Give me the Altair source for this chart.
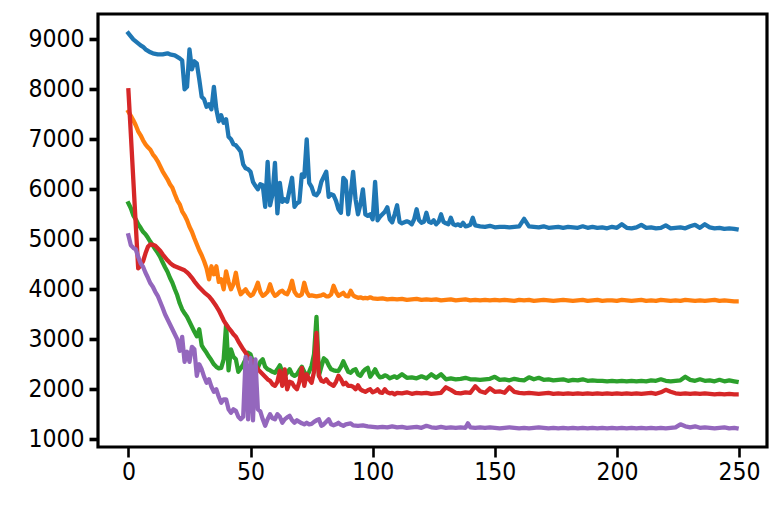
import altair as alt
import pandas as pd

# ---- data (x = step index, y = value) ----
blue_head = [
    9120, 9060, 9000, 8960, 8920, 8880, 8850, 8800, 8770, 8740,
    8720, 8710, 8700, 8700, 8700, 8710, 8720, 8700, 8690, 8680,
    8650, 8620, 8580, 8000, 8050, 8800, 8400, 8560, 8520, 8200,
    7850, 7800, 7650, 7700, 7600, 8050, 7600, 7360, 7480, 7330,
    7400, 7050, 7000, 6900, 6880, 6820, 6750, 6500, 6420, 6400,
    6350, 6150, 6070, 6000, 6100, 6080, 5650, 6550, 5680, 5900,
    6530, 5520, 6130, 5750, 5800, 5750, 6000, 6230, 5650, 5720,
    5750, 6300, 6250, 7000, 6130, 6050, 5900, 5880, 5950, 6150,
    6250, 6350, 5850, 5900, 5880, 5770, 5600, 5530, 6230, 6170,
    5500, 5900, 6350, 5800, 5500, 5700, 6000, 5500, 5470, 5500,
    5400, 6150, 5380, 5450, 5500, 5550, 5640, 5400, 5340, 5500,
    5680, 5350, 5320, 5340, 5360, 5340, 5300, 5400, 5600, 5380,
    5330, 5350, 5530, 5350, 5330, 5380, 5300, 5350, 5500, 5350,
    5320, 5300, 5430, 5300, 5280, 5300, 5270, 5330, 5260, 5270,
    5290, 5430, 5280,
]
blue_tail_start = 144
blue_tail = [
    5260, 5250, 5270, 5240, 5250, 5250, 5240, 5250, 5260, 5410,
    5260, 5250, 5240, 5260, 5230, 5240, 5250, 5230, 5250, 5240,
    5230, 5260, 5230, 5250, 5230, 5240, 5220, 5250, 5230, 5300,
    5230, 5220, 5240, 5290, 5230, 5240, 5220, 5230, 5280, 5220,
    5230, 5240, 5220, 5260, 5290, 5230, 5300, 5240, 5220, 5230,
    5210, 5220, 5210,
]
blue_last = 5200

orange_head = [
    7550, 7470, 7380, 7280, 7160, 7080, 6980, 6900, 6840, 6790,
    6700, 6640, 6560, 6460, 6360, 6280, 6200, 6100, 6030, 5900,
    5780, 5700, 5560, 5480, 5380, 5250, 5150, 5020, 4900, 4780,
    4680, 4560, 4420, 4200, 4460, 4300, 4460, 4150, 4200, 4000,
    4360, 4150, 4000, 4100, 4330, 4050, 3900, 3950, 4000, 3920,
    3870, 3900, 4000, 4130, 3950, 3870, 3900, 3950, 4100, 3950,
    3870, 3900, 3950, 3970, 3920, 3900, 4000, 4170, 3950, 3880,
    3870, 3900, 4130, 3950, 3870, 3880, 3870, 3860, 3870, 3880,
    3900, 3860, 3860, 3900, 4070, 3950, 3870, 3900, 3930, 3870,
    3860, 3970, 3880, 3850, 3830, 3840, 3820, 3830, 3820, 3840,
    3820,
]
orange_tail_start = 102
orange_tail = [
    3810, 3820, 3800, 3810, 3800, 3810, 3790, 3800, 3810, 3790,
    3800, 3790, 3800, 3780, 3790, 3800, 3780, 3790, 3800, 3780,
    3790, 3780, 3790, 3780, 3790, 3780, 3790, 3780, 3770, 3790,
    3780, 3790, 3770, 3780, 3790, 3780, 3770, 3780, 3790, 3780,
    3770, 3780, 3790, 3770, 3780, 3790, 3770, 3780, 3780, 3770,
    3790, 3780, 3770, 3780, 3790, 3770, 3780, 3770, 3790, 3780,
    3770, 3780, 3770, 3790, 3780, 3770, 3780, 3770, 3780, 3790,
    3770, 3780, 3770, 3760,
]
orange_last = 3760

green_head = [
    5720, 5620, 5480, 5400, 5300, 5230, 5150, 5100, 5030, 4950,
    4880, 4800, 4730, 4650, 4540, 4440, 4350, 4230, 4130, 4000,
    3880, 3720, 3600, 3520, 3450, 3350, 3250, 3150, 3060, 3200,
    2880, 2800, 2730, 2650, 2580, 2500, 2450, 2420, 2430, 2600,
    3300, 2380, 2800, 2650, 2600, 2350, 2420, 2500, 2600, 2730,
    2700, 2550, 2450, 2430, 2550, 2600, 2450, 2400, 2380, 2350,
    2330, 2400, 2480, 2350, 2270, 2330, 2400, 2300, 2270, 2300,
    2380, 2450, 2350, 2270, 2350, 2470, 2700, 3450, 2270, 2450,
    2620, 2580, 2480, 2400, 2380, 2370, 2370, 2450, 2560, 2450,
    2350, 2330, 2380, 2400, 2300, 2270, 2350, 2400, 2430, 2250,
    2320, 2400, 2300, 2240, 2250, 2280, 2260, 2220, 2240, 2260,
    2230,
]
green_tail_start = 112
green_tail = [
    2300, 2230, 2240, 2220, 2260, 2220, 2300, 2230, 2300, 2200,
    2220, 2200, 2210, 2230, 2200, 2200, 2190, 2200, 2210, 2250,
    2190, 2200, 2180, 2210, 2190, 2180, 2240, 2200, 2230, 2190,
    2200, 2180, 2190, 2200, 2170, 2190, 2180, 2200, 2170, 2180,
    2170, 2170, 2160, 2170, 2160, 2170, 2160, 2170, 2160, 2170,
    2160, 2180, 2170, 2200, 2170, 2160, 2170, 2180, 2250, 2190,
    2170, 2200, 2170, 2180, 2160, 2190, 2160, 2180, 2160,
]
green_last = 2150

red_head = [
    7980, 7100, 6200, 5300, 4420, 4470, 4560, 4720, 4850, 4900,
    4890, 4870, 4820, 4770, 4700, 4640, 4580, 4530, 4490, 4460,
    4440, 4420, 4400, 4380, 4340, 4290, 4230, 4160, 4100, 4040,
    3990, 3940, 3900, 3860, 3800, 3730, 3660, 3580, 3480, 3380,
    3300, 3230, 3170, 3100, 3050, 2960, 2880, 2800, 2730, 2650,
    2590, 2540, 2490, 2400, 2350, 2300, 2250, 2200, 2170, 2100,
    2070, 2150, 2370, 2070, 2400, 2000, 2150, 2130, 2050, 2000,
    2150, 2430, 2070, 2300, 2200, 2130, 2350, 3130, 2270, 2170,
    2150, 2200, 2130, 2100, 2070, 2150, 2270, 2200, 2100, 2130,
    2070, 2070, 2050, 2000, 2080, 2000, 1970, 1950, 1980, 2000,
    1940, 1960, 2000, 1940, 1930, 2000, 1940, 1920, 1930, 1900,
    1930,
]
red_tail_start = 112
red_tail = [
    1920, 1940, 1910, 1930, 1920, 1930, 1910, 1920, 1930, 2040,
    1990, 1930, 1920, 1940, 1930, 2060, 1960, 1930, 2020, 1950,
    1960, 1930, 2040, 1950, 1930, 1920, 1930, 1920, 1910, 1920,
    1930, 1910, 1920, 1910, 1920, 1910, 1920, 1910, 1920, 1910,
    1920, 1910, 1920, 1910, 1920, 1910, 1920, 1910, 1920, 1910,
    1920, 1930, 1910, 1940, 1990, 1950, 1920, 1910, 1920, 1910,
    1920, 1910, 1920, 1910, 1900, 1910, 1900, 1910, 1900,
]
red_last = 1900

purple_head = [
    5080, 4880, 4830, 4800, 4650, 4520, 4450, 4330, 4230, 4120,
    4050, 3950, 3870, 3750, 3630, 3500, 3400, 3300, 3200, 3100,
    3000, 2770, 3050, 2550, 2750, 2550, 2850, 2800, 2270, 2500,
    2400, 2250, 2130, 2200, 2050, 1950, 2000, 1850, 1730, 1800,
    1800, 1600, 1530, 1600, 1570, 1450, 1400, 1450, 2650, 1400,
    2630, 1380, 2600, 1600, 1560, 1400, 1270, 1400, 1500, 1420,
    1400, 1500, 1450, 1330, 1400, 1440, 1470, 1380, 1330, 1380,
    1350, 1320, 1300, 1330, 1300, 1310, 1350, 1380, 1400, 1270,
    1300, 1350, 1400, 1300, 1280, 1300, 1330, 1290, 1270, 1300,
    1310, 1320, 1280,
]
purple_tail_start = 94
purple_tail = [
    1270, 1280, 1260, 1250, 1240, 1250, 1240, 1260, 1240, 1250,
    1230, 1240, 1250, 1230, 1270, 1240, 1230, 1250, 1230, 1240,
    1230, 1240, 1230, 1240, 1230, 1240, 1230, 1240, 1230, 1220,
    1230, 1240, 1230, 1220, 1230, 1220, 1230, 1240, 1230, 1220,
    1230, 1220, 1230, 1220, 1230, 1220, 1230, 1220, 1230, 1220,
    1230, 1220, 1230, 1220, 1230, 1220, 1230, 1220, 1230, 1220,
    1230, 1220, 1230, 1220, 1230, 1240, 1300, 1260, 1240, 1260,
    1230, 1240, 1230, 1220, 1230, 1240, 1220, 1230,
]
purple_spike_x = [139]
purple_spike_y = [1320]
purple_last = 1220
last_x = 249

series_names = ["blue", "orange", "green", "red", "purple"]
series_colors = ["#1f77b4", "#ff7f0e", "#2ca02c", "#d62728", "#9467bd"]
x_ticks = [0, 50, 100, 150, 200, 250]
y_ticks = [1000, 2000, 3000, 4000, 5000, 6000, 7000, 8000, 9000]
x_domain = [-12.45, 261.45]
y_domain = [846, 9506]

FONT = "Liberation Sans Narrow, DejaVu Sans Condensed, DejaVu Sans"


def build(name, head, tail_start, tail, last, extra_x=(), extra_y=()):
    pts = {i: v for i, v in enumerate(head)}
    for j, v in enumerate(tail):
        pts[tail_start + 2 * j] = v
    for ex, ey in zip(extra_x, extra_y):
        pts[ex] = ey
    pts[last_x] = last
    return pd.DataFrame(
        {"step": sorted(pts), "value": [pts[k] for k in sorted(pts)], "series": name}
    )


frames = [
    build("blue", blue_head, blue_tail_start, blue_tail, blue_last),
    build("orange", orange_head, orange_tail_start, orange_tail, orange_last),
    build("green", green_head, green_tail_start, green_tail, green_last),
    build("red", red_head, red_tail_start, red_tail, red_last),
    build("purple", purple_head, purple_tail_start, purple_tail, purple_last,
          purple_spike_x, purple_spike_y),
]

xenc = alt.X("step:Q", title="",
             scale=alt.Scale(domain=x_domain, nice=False, zero=False),
             axis=alt.Axis(values=x_ticks, format="d", labelPadding=3,
                           labelFlush=False, tickWidth=2.6, tickSize=10))
yenc = alt.Y("value:Q", title="",
             scale=alt.Scale(domain=y_domain, nice=False, zero=False),
             axis=alt.Axis(values=y_ticks, format="d", labelPadding=5,
                           tickWidth=3.6, tickSize=9))

layers = []
for df, col in zip(frames, series_colors):
    layers.append(
        alt.Chart(df).mark_line(color=col, strokeWidth=4.3, strokeJoin="round",
                                strokeCap="square", clip=True)
        .encode(x=xenc, y=yenc, order="step:Q")
    )

chart = (
    alt.layer(*layers)
    .properties(width=669, height=433,
                padding={"left": 90, "top": 6, "right": 7, "bottom": 56},
                autosize=alt.AutoSizeParams(type="none"))
    .configure_view(stroke="black", strokeWidth=3.2)
    .configure_axis(domain=False, grid=False, ticks=True,
                    tickColor="black", labelFontSize=24.5,
                    labelFont=FONT, labelColor="black")
)

chart.save("out.html", embed_options={"renderer": "svg", "actions": False})
